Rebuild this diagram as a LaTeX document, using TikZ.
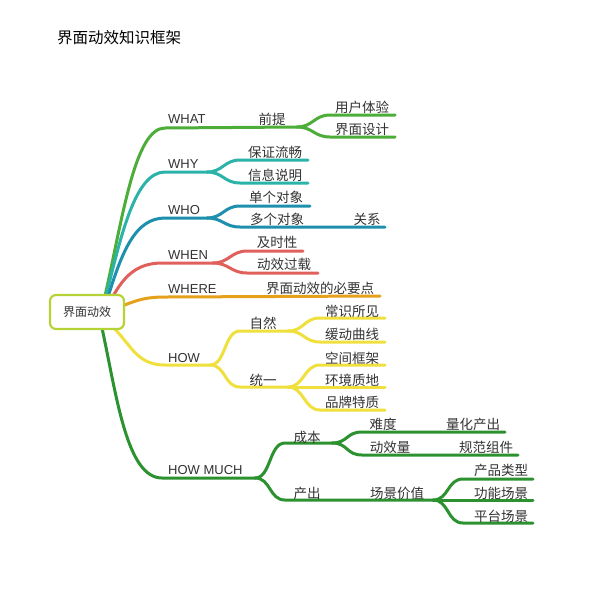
\documentclass[tikz,border=0pt]{standalone}
\usepackage{fontspec}
\setmainfont{Liberation Sans}
\newfontfamily\cjk{Noto Sans CJK SC}
\definecolor{txt}{HTML}{333333}
\definecolor{cwhat}{HTML}{4CAD38}
\definecolor{cwhy}{HTML}{2BB3A9}
\definecolor{cwho}{HTML}{1E8FAD}
\definecolor{cwhen}{HTML}{E0605C}
\definecolor{cwhere}{HTML}{E6A11C}
\definecolor{chow}{HTML}{F0E03E}
\definecolor{cmuch}{HTML}{2C922F}
\definecolor{croot}{HTML}{B5D336}
\begin{document}
\begin{tikzpicture}[x=1pt,y=-1pt,
  br/.style={line width=3pt, line cap=round, line join=round},
  en/.style={anchor=base west, inner sep=0pt, font=\fontsize{13}{13}\selectfont, text=txt},
  zh/.style={inner sep=0pt, font=\cjk\fontsize{13.5}{13.5}\selectfont, text=txt},
  rootbox/.style={draw=croot, line width=2.2pt, rounded corners=6pt, fill=white, minimum width=74pt, minimum height=34pt, inner sep=0pt, font=\cjk\fontsize{12}{12}\selectfont, text=txt},
  sp/.style={to path={.. controls +(16,0) and +(-16,0) .. (\tikztotarget)}}
]
\useasboundingbox (0,0) rectangle (600,600);
\fill[white] (0,0) rectangle (600,600);

\node[anchor=west, inner sep=0pt, font=\cjk\fontsize{15.5}{15.5}\selectfont, text=black] (title) at (57,38) {界面动效知识框架};

% ---------- WHAT ----------
\coordinate (sWHAT) at (105,296);
\coordinate (cWHAT) at (165,128);
\coordinate (jWHAT) at (297,127);
\coordinate (aWHAT1) at (330,115); \coordinate (eWHAT1) at (395,115);
\coordinate (aWHAT2) at (330,137); \coordinate (eWHAT2) at (395,137);
\draw[br, cwhat] (sWHAT) .. controls +(18,-80) and +(-30,0) .. (cWHAT) -- (jWHAT);
\draw[br, cwhat] (jWHAT) to[sp] (aWHAT1) -- (eWHAT1);
\draw[br, cwhat] (jWHAT) to[sp] (aWHAT2) -- (eWHAT2);
\node[en] (WHAT) at (168,123) {WHAT};
\node[zh] (qianti) at (272,119) {前提};
\node[zh] (yonghu) at (362,107) {用户体验};
\node[zh] (jiemian) at (362,129) {界面设计};

% ---------- WHY ----------
\coordinate (sWHY) at (106,296);
\coordinate (cWHY) at (165,172);
\coordinate (jWHY) at (207,172);
\coordinate (aWHY1) at (240,160); \coordinate (eWHY1) at (308,160);
\coordinate (aWHY2) at (240,183); \coordinate (eWHY2) at (308,183);
\draw[br, cwhy] (sWHY) .. controls +(15,-60) and +(-30,0) .. (cWHY) -- (jWHY);
\draw[br, cwhy] (jWHY) to[sp] (aWHY1) -- (eWHY1);
\draw[br, cwhy] (jWHY) to[sp] (aWHY2) -- (eWHY2);
\node[en] (WHY) at (168,168) {WHY};
\node[zh] (baozheng) at (275,152) {保证流畅};
\node[zh] (xinxi) at (275,175) {信息说明};

% ---------- WHO ----------
\coordinate (sWHO) at (108,297);
\coordinate (cWHO) at (165,218);
\coordinate (jWHO) at (207,218);
\coordinate (aWHO1) at (240,206); \coordinate (eWHO1) at (310,206);
\coordinate (aWHO2) at (240,227); \coordinate (eWHO2) at (385,227);
\draw[br, cwho] (sWHO) .. controls +(14,-45) and +(-30,0) .. (cWHO) -- (jWHO);
\draw[br, cwho] (jWHO) to[sp] (aWHO1) -- (eWHO1);
\draw[br, cwho] (jWHO) to[sp] (aWHO2) -- (eWHO2);
\node[en] (WHO) at (168,214) {WHO};
\node[zh] (dange) at (276,197) {单个对象};
\node[zh] (duoge) at (277,219) {多个对象};
\node[zh] (guanxi) at (367,219) {关系};

% ---------- WHEN ----------
\coordinate (sWHEN) at (112,298);
\coordinate (cWHEN) at (162,263);
\coordinate (jWHEN) at (213,263);
\coordinate (aWHEN1) at (247,251); \coordinate (eWHEN1) at (303,251);
\coordinate (aWHEN2) at (247,273); \coordinate (eWHEN2) at (318,273);
\draw[br, cwhen] (sWHEN) .. controls +(12,-22) and +(-25,0) .. (cWHEN) -- (jWHEN);
\draw[br, cwhen] (jWHEN) to[sp] (aWHEN1) -- (eWHEN1);
\draw[br, cwhen] (jWHEN) to[sp] (aWHEN2) -- (eWHEN2);
\node[en] (WHEN) at (168,259) {WHEN};
\node[zh] (jishi) at (277,242) {及时性};
\node[zh] (guozai) at (284,264) {动效过载};

% ---------- WHERE ----------
\coordinate (sWHERE) at (122,306);
\coordinate (cWHERE) at (167,297);
\coordinate (eWHERE) at (380,296);
\draw[br, cwhere] (sWHERE) .. controls +(18,-7) and +(-20,0) .. (cWHERE) -- (eWHERE);
\node[en] (WHERE) at (168,293) {WHERE};
\node[zh] (biyao) at (320,288) {界面动效的必要点};

% ---------- HOW ----------
\coordinate (sHOW) at (112,326);
\coordinate (cHOW) at (165,365);
\coordinate (jHOW) at (210,365);
\coordinate (aZR) at (240,331); \coordinate (jZR) at (288,331);
\coordinate (aZR1) at (320,318); \coordinate (eZR1) at (385,318);
\coordinate (aZR2) at (320,342); \coordinate (eZR2) at (385,342);
\coordinate (aTY) at (240,387); \coordinate (jTY) at (288,387);
\coordinate (aTY1) at (320,365); \coordinate (eTY1) at (385,365);
\coordinate (eTY2) at (385,387);
\coordinate (aTY3) at (320,410); \coordinate (eTY3) at (385,410);
\draw[br, chow] (sHOW) .. controls +(20,20) and +(-28,0) .. (cHOW) -- (jHOW);
\draw[br, chow] (jHOW) to[sp] (aZR) -- (jZR);
\draw[br, chow] (jHOW) to[sp] (aTY) -- (jTY);
\draw[br, chow] (jZR) to[sp] (aZR1) -- (eZR1);
\draw[br, chow] (jZR) to[sp] (aZR2) -- (eZR2);
\draw[br, chow] (jTY) to[sp] (aTY1) -- (eTY1);
\draw[br, chow] (jTY) -- (eTY2);
\draw[br, chow] (jTY) to[sp] (aTY3) -- (eTY3);
\node[en] (HOW) at (168,362) {HOW};
\node[zh] (ziran) at (263,323) {自然};
\node[zh] (changshi) at (352,311) {常识所见};
\node[zh] (huandong) at (352,334) {缓动曲线};
\node[zh] (tongyi) at (263,380) {统一};
\node[zh] (kongjian) at (352,358) {空间框架};
\node[zh] (huanjing) at (352,380) {环境质地};
\node[zh] (pinpai) at (352,402) {品牌特质};

% ---------- HOW MUCH ----------
\coordinate (sMUCH) at (102,328);
\coordinate (cMUCH) at (162,478);
\coordinate (jMUCH) at (255,478);
\coordinate (aCB) at (285,443); \coordinate (jCB) at (332,443);
\coordinate (aCB1) at (362,432); \coordinate (eCB1) at (505,432);
\coordinate (aCB2) at (362,455); \coordinate (eCB2) at (518,455);
\coordinate (aCC) at (285,500); \coordinate (jCC) at (433,500);
\coordinate (aCC1) at (463,479); \coordinate (eCC1) at (533,479);
\coordinate (eCC2) at (533,500);
\coordinate (aCC3) at (463,523); \coordinate (eCC3) at (533,523);
\draw[br, cmuch] (sMUCH) .. controls +(15,70) and +(-35,0) .. (cMUCH) -- (jMUCH);
\draw[br, cmuch] (jMUCH) to[sp] (aCB) -- (jCB);
\draw[br, cmuch] (jMUCH) to[sp] (aCC) -- (jCC);
\draw[br, cmuch] (jCB) to[sp] (aCB1) -- (eCB1);
\draw[br, cmuch] (jCB) to[sp] (aCB2) -- (eCB2);
\draw[br, cmuch] (jCC) to[sp] (aCC1) -- (eCC1);
\draw[br, cmuch] (jCC) -- (eCC2);
\draw[br, cmuch] (jCC) to[sp] (aCC3) -- (eCC3);
\node[en] (MUCH) at (168,474) {HOW MUCH};
\node[zh] (chengben) at (307,437) {成本};
\node[zh] (nandu) at (383,424) {难度};
\node[zh] (lianghua) at (473,424) {量化产出};
\node[zh] (dongxiao) at (390,447) {动效量};
\node[zh] (guifan) at (486,447) {规范组件};
\node[zh] (chanchu) at (307,493) {产出};
\node[zh] (changjing) at (397,493) {场景价值};
\node[zh] (leixing) at (501,470) {产品类型};
\node[zh] (gongneng) at (501,493) {功能场景};
\node[zh] (pingtai) at (501,516) {平台场景};

% ---------- root ----------
\node[rootbox] (root) at (87,312) {界面动效};
\end{tikzpicture}
\end{document}
